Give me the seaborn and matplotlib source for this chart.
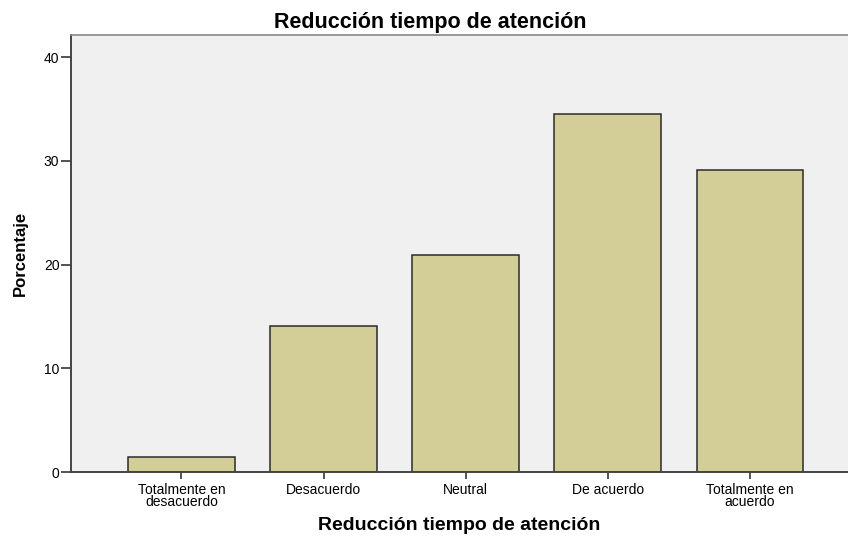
import matplotlib
matplotlib.use("Agg")
import matplotlib.pyplot as plt
import seaborn as sns
import pandas as pd

categories = ["Totalmente en\ndesacuerdo", "Desacuerdo", "Neutral", "De acuerdo", "Totalmente en\nacuerdo"]
porcentaje = [1.4, 14.1, 20.9, 34.5, 29.1]
yticks = [0, 10, 20, 30, 40]
title = "Reducción tiempo de atención"
xlabel = "Reducción tiempo de atención"
ylabel = "Porcentaje"

sns.set_theme(style="white")
plt.rcParams['font.family'] = ['Liberation Sans', 'DejaVu Sans']

df = pd.DataFrame({"cat": categories, "pct": porcentaje})

fig = plt.figure(figsize=(8.48, 5.36), dpi=100)
ax = fig.add_axes([70.5 / 848, 64 / 536, 1 - 70.5 / 848, 437.5 / 536])
ax.set_facecolor("#F0F0F0")

sns.barplot(data=df, x="cat", y="pct", color="#D3CE97", width=0.75,
            edgecolor="#2a2a2a", linewidth=1.1, saturation=1, ax=ax)

ax.set_xlim(-0.78, 4.69)
ax.set_ylim(0, 42.2)
ax.set_yticks(yticks)
ax.set_yticklabels([str(v) for v in yticks], fontsize=10, color="black")
ax.tick_params(axis="y", length=7, width=1.3, color="#444444", pad=1, direction="out", left=True)
ax.tick_params(axis="x", length=5, width=1.3, color="#444444", pad=3, direction="out", bottom=True, labelsize=10, labelcolor="black")
for lab in ax.get_xticklabels():
    lab.set_linespacing(0.85)

for s in ["left", "bottom"]:
    ax.spines[s].set_color("#444444")
    ax.spines[s].set_linewidth(1.4)
ax.spines["top"].set_color("#888888")
ax.spines["top"].set_linewidth(1.2)
ax.spines["right"].set_visible(False)

ax.set_xlabel("")
ax.set_ylabel("")
fig.text(459 / 848, 1 - 530 / 536, xlabel, ha="center", va="baseline", fontsize=14, fontweight="bold", color="black")
fig.text(20 / 848, 1 - 253 / 536, ylabel, rotation=90, ha="center", va="center",
         fontsize=12, fontweight="bold", color="black",
         family=['Liberation Sans Narrow', 'Liberation Sans', 'DejaVu Sans'])
fig.text(430 / 848, 1 - 28 / 536, title, ha="center", va="baseline", fontsize=15.5, fontweight="bold", color="black")

fig.savefig("out.png", dpi=100)
